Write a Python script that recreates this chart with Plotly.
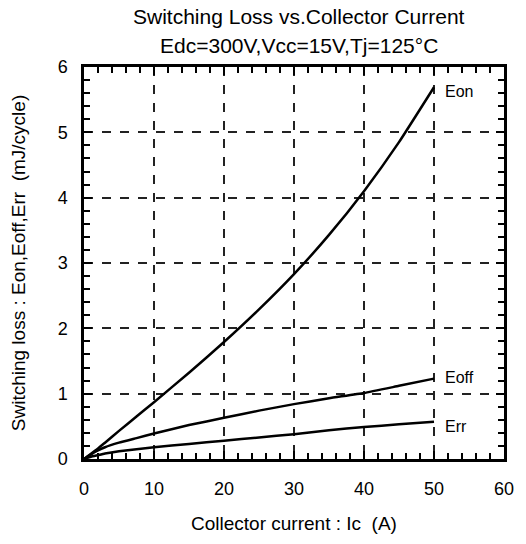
import plotly.graph_objects as go

# Collector current (A)
ic = [0, 1, 2, 3, 5, 7.5, 10, 15, 20, 25, 30, 35, 40, 45, 50]
# Switching losses (mJ/cycle)
eon = [0, 0.08, 0.16, 0.25, 0.43, 0.65, 0.87, 1.32, 1.79, 2.29, 2.83, 3.43, 4.10, 4.85, 5.69]
eoff = [0, 0.07, 0.13, 0.18, 0.25, 0.32, 0.39, 0.52, 0.63, 0.74, 0.84, 0.93, 1.01, 1.12, 1.23]
err = [0, 0.035, 0.06, 0.085, 0.12, 0.15, 0.18, 0.23, 0.28, 0.33, 0.38, 0.44, 0.49, 0.53, 0.57]

labels = ["Eon", "Eoff", "Err"]
label_y = [5.62, 1.24, 0.49]
label_x = 51.3

title_lines = ["Switching Loss vs.Collector Current", "Edc=300V,Vcc=15V,Tj=125°C"]

FONT = "Liberation Sans, Arial, sans-serif"

fig = go.Figure()
for ys in (eon, eoff, err):
    fig.add_trace(go.Scatter(x=ic, y=ys, mode="lines",
                             line=dict(color="black", width=2.5, shape="spline", smoothing=0.4),
                             showlegend=False, hoverinfo="skip"))

for name, yv in zip(labels, label_y):
    fig.add_annotation(x=label_x, y=yv, text=name, showarrow=False, xanchor="left", yanchor="middle",
                       font=dict(family=FONT, size=16, color="black"))

for line, yp in zip(title_lines, [1.128, 1.056]):
    fig.add_annotation(x=0.513, y=yp, xref="paper", yref="paper", text=line, showarrow=False,
                       xanchor="center", yanchor="middle", font=dict(family=FONT, size=21, color="black"))

axis_common = dict(
    showline=True, linecolor="black", linewidth=2.5, mirror="ticks",
    ticks="inside", ticklen=8, tickwidth=2, tickcolor="black",
    showgrid=True, gridcolor="#222", griddash="dash", gridwidth=1.5,
    zeroline=False, tickfont=dict(family=FONT, size=18, color="black"),
)

fig.update_xaxes(range=[0, 60], dtick=10, tick0=0,
                 minor=dict(dtick=2, ticks="inside", ticklen=6, tickwidth=2, tickcolor="black", showgrid=False),
                 title=dict(text="Collector current : Ic  (A)", font=dict(family=FONT, size=19, color="black"), standoff=19),
                 ticklabelstandoff=12,
                 **axis_common)
fig.update_yaxes(range=[0, 6], dtick=1, tick0=0,
                 minor=dict(dtick=0.2, ticks="inside", ticklen=6, tickwidth=2, tickcolor="black", showgrid=False),
                 title=dict(text="Switching loss : Eon,Eoff,Err  (mJ/cycle)", font=dict(family=FONT, size=19, color="black"), standoff=27),
                 ticklabelstandoff=10,
                 **axis_common)

fig.update_layout(
    width=526, height=544,
    margin=dict(l=84, r=15, t=67, b=85),
    paper_bgcolor="white", plot_bgcolor="white",
)

fig.write_html("out.html")
